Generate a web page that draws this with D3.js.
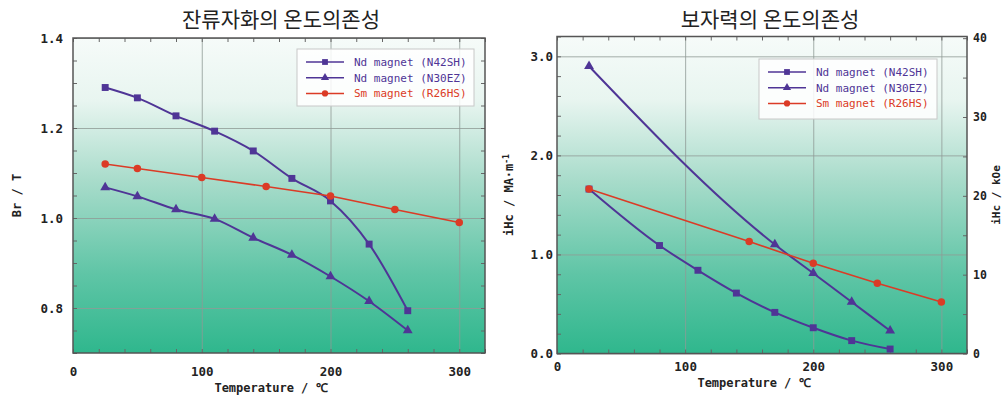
<!DOCTYPE html>
<html>
<head>
<meta charset="utf-8">
<script src="https://cdn.jsdelivr.net/npm/d3@7"></script>
<style>
  body { margin: 0; background: #fff; }
  svg { display: block; }
</style>
</head>
<body>
<div id="chart"></div>
<script>
// temperature (deg C) for each series
const tempN42 = [25, 50, 80, 110, 140, 170, 200, 230, 260];
const tempN30 = [25, 50, 80, 110, 140, 170, 200, 230, 260];
const tempSm = [25, 50, 100, 150, 200, 250, 300];

// remanence Br (T)
const brN42 = [1.29, 1.267, 1.227, 1.193, 1.149, 1.088, 1.038, 0.942, 0.794];
const brN30 = [1.068, 1.048, 1.019, 0.998, 0.956, 0.918, 0.870, 0.815, 0.750];
const brSm = [1.12, 1.11, 1.09, 1.07, 1.049, 1.019, 0.99];

// coercivity iHc (MA/m)
const hcTempN42 = [25, 80, 110, 140, 170, 200, 230, 260];
const hcN42 = [1.66, 1.09, 0.84, 0.61, 0.415, 0.26, 0.13, 0.045];
const hcTempN30 = [25, 170, 200, 230, 260];
const hcN30 = [2.9, 1.10, 0.81, 0.52, 0.23];
const hcTempSm = [25, 150, 200, 250, 300];
const hcSm = [1.66, 1.13, 0.91, 0.71, 0.52];

const seriesNames = ['Nd magnet (N42SH)', 'Nd magnet (N30EZ)', 'Sm magnet (R26HS)'];
const xTicks = [0, 100, 200, 300];
const brTicks = [0.8, 1.0, 1.2, 1.4];
const hcTicks = [0.0, 1.0, 2.0, 3.0];
const kOeTicks = [0, 10, 20, 30, 40];

const purple = '#4f3596';
const red = '#db3b26';
const mono = "'DejaVu Sans Mono', monospace";

const svg = d3.select('#chart').append('svg')
  .attr('width', 1005)
  .attr('height', 399);

const defs = svg.append('defs');
const grad = defs.append('linearGradient')
  .attr('id', 'bg')
  .attr('x1', 0).attr('y1', 0).attr('x2', 0).attr('y2', 1);
grad.append('stop').attr('offset', '0%').attr('stop-color', '#f6fbf9');
grad.append('stop').attr('offset', '20%').attr('stop-color', '#e8f5f0');
grad.append('stop').attr('offset', '45%').attr('stop-color', '#a9dccb');
grad.append('stop').attr('offset', '75%').attr('stop-color', '#5fc5a6');
grad.append('stop').attr('offset', '100%').attr('stop-color', '#2fb78d');

function drawPanel(opt) {
  const g = svg.append('g');
  const x = d3.scaleLinear().domain([0, 320]).range([opt.left, opt.right]);
  const y = d3.scaleLinear().domain(opt.yDomain).range([opt.bottom, opt.top]);
  const w = opt.right - opt.left;
  const h = opt.bottom - opt.top;

  g.append('rect')
    .attr('x', opt.left).attr('y', opt.top)
    .attr('width', w).attr('height', h)
    .attr('fill', 'url(#bg)');

  // grid lines
  g.append('g')
    .attr('transform', `translate(0,${opt.bottom})`)
    .call(d3.axisBottom(x).tickValues(xTicks.slice(1)).tickSize(-h).tickFormat(''))
    .call(s => s.select('.domain').remove())
    .selectAll('line').attr('stroke', '#8f9a96').attr('stroke-width', 0.8);
  g.append('g')
    .attr('transform', `translate(${opt.left},0)`)
    .call(d3.axisLeft(y).tickValues(opt.yTicks).tickSize(-w).tickFormat(''))
    .call(s => s.select('.domain').remove())
    .selectAll('line').attr('stroke', '#8f9a96').attr('stroke-width', 0.8);

  // inward minor ticks on all four sides
  const xMinor = d3.range(0, 321, 20);
  const yMinor = d3.range(opt.yDomain[0], opt.yDomain[1] + 1e-9, opt.yMinorStep);
  const tick = (axis, tr) => g.append('g').attr('transform', tr).call(axis)
    .call(s => s.select('.domain').remove())
    .selectAll('line').attr('stroke', '#666').attr('stroke-width', 1);
  tick(d3.axisBottom(x).tickValues(xMinor).tickSize(-4).tickFormat(''), `translate(0,${opt.bottom})`);
  tick(d3.axisTop(x).tickValues(xMinor).tickSize(-4).tickFormat(''), `translate(0,${opt.top})`);
  tick(d3.axisLeft(y).tickValues(yMinor).tickSize(-4).tickFormat(''), `translate(${opt.left},0)`);
  const yr = opt.yRight ? opt.yRight.scale : y;
  const yrTicks = opt.yRight ? d3.range(0, 41, 5) : yMinor;
  tick(d3.axisRight(yr).tickValues(yrTicks).tickSize(-4).tickFormat(''), `translate(${opt.right},0)`);

  // frame
  g.append('rect')
    .attr('x', opt.left).attr('y', opt.top)
    .attr('width', w).attr('height', h)
    .attr('fill', 'none').attr('stroke', '#555').attr('stroke-width', 1.5);

  // tick labels
  const labelStyle = s => s.attr('font-family', mono).attr('font-weight', 'bold')
    .attr('font-size', 12.5).attr('fill', '#222');
  g.append('g')
    .attr('transform', `translate(0,${opt.bottom})`)
    .call(d3.axisBottom(x).tickValues(xTicks).tickSize(0).tickPadding(opt.xPad))
    .call(s => s.select('.domain').remove())
    .selectAll('text').call(labelStyle);
  g.append('g')
    .attr('transform', `translate(${opt.left},0)`)
    .call(d3.axisLeft(y).tickValues(opt.yTicks).tickSize(0).tickPadding(opt.yPad).tickFormat(d3.format('.1f')))
    .call(s => s.select('.domain').remove())
    .selectAll('text').call(labelStyle);
  if (opt.yRight) {
    g.append('g')
      .attr('transform', `translate(${opt.right},0)`)
      .call(d3.axisRight(opt.yRight.scale).tickValues(kOeTicks).tickSize(0).tickPadding(6))
      .call(s => s.select('.domain').remove())
      .selectAll('text').call(labelStyle).attr('font-size', 11.5);
  }

  // titles
  g.append('text')
    .attr('x', opt.titleX).attr('y', 27)
    .attr('text-anchor', 'middle')
    .attr('font-family', "'Noto Sans CJK KR', sans-serif")
    .attr('font-size', 21).attr('fill', '#222')
    .text(opt.title);
  g.append('text')
    .attr('x', (opt.left + opt.right) / 2 - 8).attr('y', opt.xTitleY)
    .attr('text-anchor', 'middle')
    .attr('font-family', mono).attr('font-weight', 'bold')
    .attr('font-size', 12).attr('fill', '#222')
    .text('Temperature / ℃');
  const yt = g.append('text')
    .attr('transform', `translate(${opt.yTitleX},${(opt.top + opt.bottom) / 2}) rotate(-90)`)
    .attr('text-anchor', 'middle')
    .attr('font-family', mono).attr('font-weight', 'bold')
    .attr('font-size', 12).attr('fill', '#222')
    .text(opt.yTitle);
  if (opt.yTitleSup) {
    yt.append('tspan').attr('baseline-shift', 'super').attr('font-size', 8).text(opt.yTitleSup);
  }
  if (opt.yRight) {
    g.append('text')
      .attr('transform', `translate(${opt.yRight.titleX},${(opt.top + opt.bottom) / 2}) rotate(-90)`)
      .attr('text-anchor', 'middle')
      .attr('font-family', mono).attr('font-weight', 'bold')
      .attr('font-size', 11).attr('fill', '#222')
      .text(opt.yRight.title);
  }

  // series
  const series = [
    { t: opt.tN42, v: opt.vN42, color: purple, shape: d3.symbolSquare, size: 48, curve: d3.curveMonotoneX, width: 2 },
    { t: opt.tN30, v: opt.vN30, color: purple, shape: d3.symbolTriangle, size: 42, curve: d3.curveMonotoneX, width: 2 },
    { t: opt.tSm, v: opt.vSm, color: red, shape: d3.symbolCircle, size: 44, curve: d3.curveLinear, width: 1.6 }
  ];
  series.forEach(sr => {
    const pts = sr.t.map((t, i) => [t, sr.v[i]]);
    g.append('path')
      .datum(pts)
      .attr('fill', 'none')
      .attr('stroke', sr.color)
      .attr('stroke-width', sr.width)
      .attr('d', d3.line().x(d => x(d[0])).y(d => y(d[1])).curve(sr.curve));
    g.selectAll(null)
      .data(pts)
      .enter().append('path')
      .attr('transform', d => `translate(${x(d[0])},${y(d[1])})`)
      .attr('d', d3.symbol().type(sr.shape).size(sr.size))
      .attr('fill', sr.color);
  });

  // legend
  const lg = g.append('g').attr('transform', `translate(${opt.legend.x},${opt.legend.y})`);
  lg.append('rect')
    .attr('width', opt.legend.w).attr('height', opt.legend.h)
    .attr('fill', '#fff').attr('fill-opacity', 0.85)
    .attr('stroke', '#c8c8c8').attr('stroke-width', 1);
  series.forEach((sr, i) => {
    const ry = 13 + i * 15.7;
    lg.append('line')
      .attr('x1', 9).attr('x2', 47).attr('y1', ry).attr('y2', ry)
      .attr('stroke', sr.color).attr('stroke-width', 1.5);
    lg.append('path')
      .attr('transform', `translate(28,${ry})`)
      .attr('d', d3.symbol().type(sr.shape).size(sr.size * 0.7))
      .attr('fill', sr.color);
    lg.append('text')
      .attr('x', 57).attr('y', ry).attr('dy', '0.35em')
      .attr('font-family', mono).attr('font-size', 11)
      .attr('fill', i === 2 ? red : purple)
      .text(seriesNames[i]);
  });
}

drawPanel({
  left: 73, right: 485, top: 38, bottom: 353,
  yDomain: [0.7, 1.4], yTicks: brTicks, yMinorStep: 0.05,
  xPad: 14, yPad: 10,
  title: '잔류자화의 온도의존성', titleX: 281,
  xTitleY: 392, yTitle: 'Br / T', yTitleX: 21,
  tN42: tempN42, vN42: brN42, tN30: tempN30, vN30: brN30, tSm: tempSm, vSm: brSm,
  legend: { x: 297, y: 49, w: 177, h: 57 }
});

const kOeScale = d3.scaleLinear().domain([0, 3.2 / 0.0795775]).range([353.5, 36.5]);
drawPanel({
  left: 557, right: 967, top: 36.5, bottom: 353.5,
  yDomain: [0, 3.2], yTicks: hcTicks, yMinorStep: 0.2,
  xPad: 9, yPad: 4,
  title: '보자력의 온도의존성', titleX: 770,
  xTitleY: 387, yTitle: 'iHc / MA·m', yTitleSup: '-1', yTitleX: 513,
  yRight: { scale: kOeScale, title: 'iHc / kOe', titleX: 1000 },
  tN42: hcTempN42, vN42: hcN42, tN30: hcTempN30, vN30: hcN30, tSm: hcTempSm, vSm: hcSm,
  legend: { x: 759, y: 59, w: 178, h: 60 }
});
</script>
</body>
</html>
